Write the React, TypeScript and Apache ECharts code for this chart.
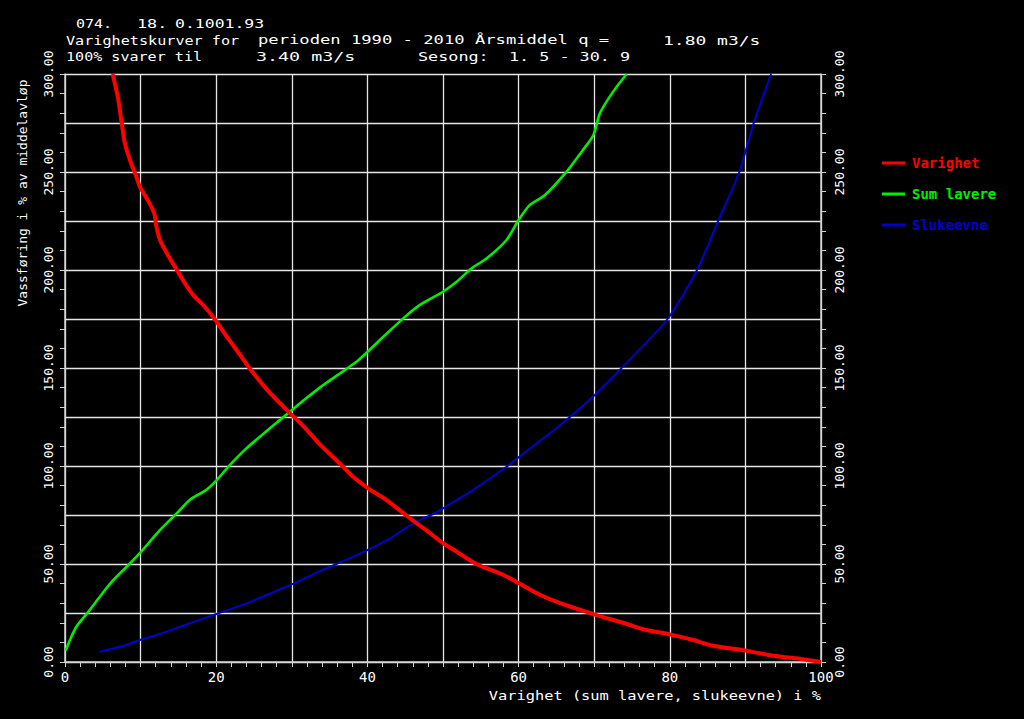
import { useEffect, useRef } from "react";
import * as echarts from "echarts";

// Header text pieces: [text, line index]
const headerTexts = [
  "074.", "18.", "0.1001.93",
  "Varighetskurver for", "perioden 1990 - 2010 Årsmiddel q =", "1.80 m3/s",
  "100% svarer til", "3.40 m3/s", "Sesong:  1. 5 - 30. 9",
];
const headerLine = [0, 0, 0, 1, 1, 1, 2, 2, 2];
const xAxisTitle = "Varighet (sum lavere, slukeevne) i %";
const yAxisTitle = "Vassføring i % av middelavløp";
const seriesNames = ["Varighet", "Sum lavere", "Slukeevne"];
const seriesColors = ["#ff0000", "#00ee00", "#0000d0"];

// Varighet (duration curve)
const varighetX = [6.3, 7.0, 7.5, 7.9, 8.6, 9.4, 9.9, 10.9, 11.8, 12.1, 12.6, 13.7, 14.8, 15.9, 17.0, 18.3, 19.8, 21.4, 23.1, 24.4, 26.7, 29.75, 31.1, 32.8, 33.7, 36.8, 38.1, 40.1, 42.5, 44.5, 46.5, 48.3, 50.0, 51.8, 54.4, 58.0, 60.2, 62.8, 65.5, 70.0, 74.3, 76.9, 80.0, 83.1, 85.7, 90.0, 93.7, 97.6, 100];
const varighetY = [300, 288, 275, 265, 256, 248, 242.5, 236, 229, 222, 215, 207, 200, 193, 187, 182, 175, 166, 157, 150, 139, 127, 122, 115, 111, 99.6, 94.5, 88.6, 82.7, 76.7, 70.8, 65.7, 60.6, 56.3, 50, 44.4, 39.8, 34.3, 30, 24.3, 19.4, 16.3, 14.1, 11.2, 8.3, 5.8, 3.2, 1.4, 0];

// Sum lavere
const sumX = [0.1, 0.65, 1.5, 3.1, 4.6, 6.2, 8.15, 9.9, 12.55, 14.8, 16.5, 18.7, 20.0, 21.8, 24.0, 27.1, 29.75, 31.1, 33.7, 38.8, 41.65, 45.0, 46.9, 50.0, 51.8, 53.8, 55.8, 58.4, 60.0, 61.5, 63.5, 66.35, 68.5, 69.9, 70.75, 72.5, 74.3];
const sumY = [5.8, 11.2, 18, 25.7, 33.3, 41, 48.6, 55.5, 67.3, 75.9, 82.7, 87.8, 92.5, 100.5, 109, 119.2, 127.7, 132, 140, 154, 164.3, 176.2, 182.1, 188.9, 194, 200.9, 206, 215.3, 225.5, 233.2, 238.3, 250.2, 261.2, 268.9, 279.9, 291, 300];

// Slukeevne
const slukX = [4.6, 7.3, 9.9, 12.55, 15.6, 20.0, 24.0, 30.0, 31.1, 33.7, 35.9, 40.0, 43.0, 46.3, 48.7, 50.0, 54.0, 58.4, 60.0, 65.5, 70.0, 74.5, 79.7, 83.6, 86.4, 89.2, 91.1, 93.4];
const slukY = [5.3, 7.8, 11.2, 14.3, 18.5, 24.5, 29.9, 39.6, 41.5, 46.4, 50, 57.1, 63.1, 71.3, 75.5, 78.4, 87.8, 99.6, 104.4, 120.9, 136, 153.5, 175, 200, 225, 250, 275, 300];

const zip = (xs: number[], ys: number[]) => xs.map((x, i) => [x, ys[i]]);

const MONO = "'DejaVu Sans Mono', 'Liberation Mono', monospace";
const CHAR_W = 13 * 0.602;

// layout of header pieces (left and right pixel edges)
const headerLeft = [76, 137, 175, 66, 258, 663, 66, 256, 418];
const headerRight = [111, 166, 263, 238, 608, 759, 201, 354, 629];

export default function App() {
  const ref = useRef<HTMLDivElement>(null);

  useEffect(() => {
    document.body.style.margin = "0";
    document.body.style.background = "#000";
    const chart = echarts.init(ref.current!, null, { renderer: "svg" });
    const lineWidths = [4, 2.6, 2];
    const datas = [zip(varighetX, varighetY), zip(sumX, sumY), zip(slukX, slukY)];

    chart.setOption({
      animation: false,
      backgroundColor: "#000000",
      grid: { left: 65, right: 203, top: 74, bottom: 57, containLabel: false },
      legend: {
        orient: "vertical",
        left: 877,
        top: 151,
        itemWidth: 23,
        itemHeight: 3,
        itemGap: 17,
        icon: "rect",
        textStyle: { fontFamily: MONO, fontSize: 14, fontWeight: "bold", padding: [0, 0, 0, 2] },
        data: seriesNames.map((n, i) => ({ name: n, textStyle: { color: seriesColors[i] } })),
      },
      xAxis: [
        {
          type: "value",
          min: 0,
          max: 100,
          interval: 2,
          position: "bottom",
          axisLine: { show: true, lineStyle: { color: "#d0d0d0", width: 1.5 } },
          axisTick: { show: true, length: 5, lineStyle: { color: "#d0d0d0" } },
          axisLabel: {
            color: "#ffffff",
            fontFamily: MONO,
            fontSize: 14,
            margin: 8,
            formatter: (v: number) => (v % 20 === 0 ? String(v) : ""),
          },
          splitLine: { show: false },
        },
        {
          type: "value",
          min: 0,
          max: 100,
          interval: 10,
          position: "top",
          axisLine: { show: false },
          axisTick: { show: false },
          axisLabel: { show: false },
          splitLine: { show: true, lineStyle: { color: "#e6e6e6", width: 1.3 } },
        },
      ],
      yAxis: [
        {
          type: "value",
          min: 0,
          max: 300,
          interval: 10,
          position: "left",
          axisLine: { show: true, lineStyle: { color: "#d0d0d0", width: 1.5 } },
          axisTick: { show: true, length: 5, lineStyle: { color: "#d0d0d0" } },
          axisLabel: {
            color: "#ffffff",
            fontFamily: MONO,
            fontSize: 13,
            rotate: 90,
            margin: 10,
            formatter: (v: number) => (v % 50 === 0 ? v.toFixed(2) : ""),
          },
          splitLine: { show: false },
        },
        {
          type: "value",
          min: 0,
          max: 300,
          interval: 10,
          position: "right",
          axisLine: { show: true, onZero: false, lineStyle: { color: "#d0d0d0", width: 1.5 } },
          axisTick: { show: true, length: 5, lineStyle: { color: "#d0d0d0" } },
          axisLabel: {
            color: "#ffffff",
            fontFamily: MONO,
            fontSize: 13,
            rotate: 90,
            margin: 12,
            formatter: (v: number) => (v % 50 === 0 ? v.toFixed(2) : ""),
          },
          splitLine: { show: false },
        },
        {
          type: "value",
          min: 0,
          max: 300,
          interval: 25,
          position: "left",
          axisLine: { show: false },
          axisTick: { show: false },
          axisLabel: { show: false },
          splitLine: { show: true, lineStyle: { color: "#e6e6e6", width: 1.3 } },
        },
      ],
      graphic: [
        ...headerTexts.map((t, i) => ({
          type: "text",
          x: headerLeft[i],
          y: 17 + headerLine[i] * 16.5,
          scaleX: (headerRight[i] - headerLeft[i]) / (t.length * CHAR_W - 1),
          style: { text: t, fill: "#ffffff", font: `13px ${MONO}`, verticalAlign: "top" },
        })),
        {
          type: "text",
          x: 821,
          y: 689,
          scaleX: 1.18,
          style: { text: xAxisTitle, fill: "#ffffff", font: `13px ${MONO}`, align: "right", verticalAlign: "top" },
        },
        {
          type: "text",
          x: 22,
          y: 193,
          rotation: Math.PI / 2,
          style: {
            text: yAxisTitle,
            fill: "#ffffff",
            font: `13px ${MONO}`,
            align: "center",
            verticalAlign: "middle",
          },
        },
      ],
      series: seriesNames.map((name, i) => ({
        name,
        type: "line",
        xAxisIndex: 0,
        yAxisIndex: 0,
        data: datas[i],
        showSymbol: false,
        symbol: "none",
        smooth: 0.25,
        clip: true,
        color: seriesColors[i],
        lineStyle: { color: seriesColors[i], width: lineWidths[i] },
        z: 5 - i,
      })),
    });

    return () => chart.dispose();
  }, []);

  return (
    <div
      ref={ref}
      style={{ position: "fixed", left: 0, top: 0, width: 1024, height: 719 }}
    />
  );
}
